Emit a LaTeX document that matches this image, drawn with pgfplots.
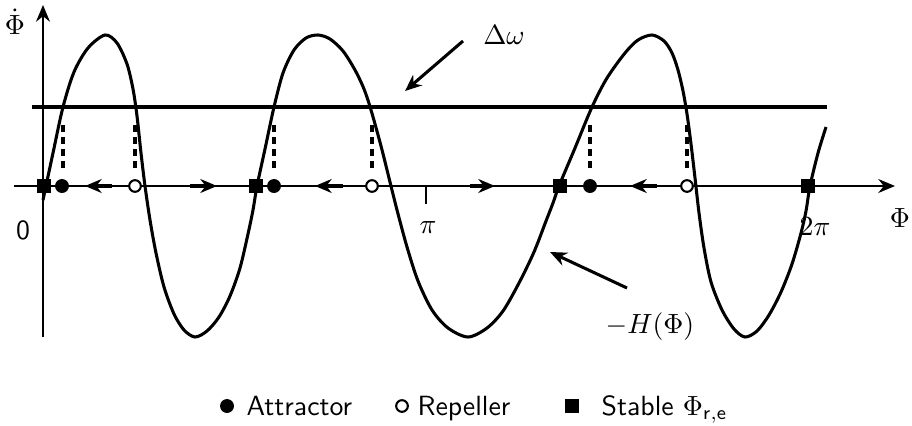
\documentclass[border=0pt]{standalone}
\usepackage{pgfplots}
\pgfplotsset{compat=1.18}
\usetikzlibrary{arrows.meta}

% coupling function -H(Phi), sampled by hand
\pgfplotstableread{
x y
43 -14
53 33
63 79
74 114
88 138
105 151
117 143
127 122
133 97
137 70
141 33
145 0
150 -34
156 -67
164 -101
174 -128
184 -144
195 -151
207 -145
219 -131
230 -110
240 -82
248 -48
253 -24
257 0
265 37
274 79
283 113
294 136
306 148
318 151
330 147
343 135
355 116
364 97
371 76
381 40
389 8
397 -24
407 -61
418 -95
432 -124
448 -142
468 -151
487 -142
503 -125
519 -97
534 -66
546 -35
553 -17
559 0
575 38
592 79
607 108
625 133
638 146
652 151
664 145
672 133
678 116
683 95
687 72
691 42
695 8
699 -27
704 -62
711 -96
722 -124
734 -143
745 -151
757 -145
769 -129
781 -106
792 -78
801 -47
806 -25
810 0
818 33
826 59
}\curve

\begin{document}
\begin{tikzpicture}
\begin{axis}[
  name=ax,
  width=328.32pt, height=153pt, scale only axis,
  xmin=0, xmax=912, ymin=-239, ymax=186,
  hide axis, clip=false,
]
% axes
\addplot[black, line width=0.75pt, -{Stealth[length=6pt,width=5pt]}] coordinates {(43,-151) (43,181)};
\addplot[black, line width=0.75pt, -{Stealth[length=6pt,width=5pt]}] coordinates {(14,0) (895,0)};
\addplot[black, line width=0.75pt] coordinates {(426,0) (426,-18)};

% detuning level
\addplot[black, line width=1.1pt] coordinates {(32,79) (827,79)};

% curve
\addplot[black, line width=1.1pt, smooth, tension=0.5] table[x=x,y=y] {\curve};

% projections of the intersections
\foreach \xx in {63,135,274,372,590,687}{
  \edef\tmp{\noexpand\addplot[black, line width=1.1pt, dash pattern=on 2.5pt off 1.8pt] coordinates {(\xx,61) (\xx,14)};}
  \tmp
}

% flow direction on the phase axis
\addplot[black, line width=1.1pt, -{Stealth[length=6pt,width=5pt]}] coordinates {(112,0) (85,0)};
\addplot[black, line width=1.1pt, -{Stealth[length=6pt,width=5pt]}] coordinates {(190,0) (217,0)};
\addplot[black, line width=1.1pt, -{Stealth[length=6pt,width=5pt]}] coordinates {(343,0) (315,0)};
\addplot[black, line width=1.1pt, -{Stealth[length=6pt,width=5pt]}] coordinates {(470,0) (495,0)};
\addplot[black, line width=1.1pt, -{Stealth[length=6pt,width=5pt]}] coordinates {(657,0) (630,0)};

% fixed points
\addplot[only marks, mark=square*, mark size=2.2pt, black] coordinates {(44,0) (256,0) (560,0) (808,0)};
\addplot[only marks, mark=*, mark size=2.3pt, black] coordinates {(62,0) (274,0) (590,0)};
\addplot[only marks, mark=*, mark size=2.1pt, black, fill=white, line width=0.75pt] coordinates {(135,0) (372,0) (687,0)};

% annotation arrows
\addplot[black, line width=1.1pt, -{Stealth[length=6pt,width=5pt]}] coordinates {(463,145) (405,95)};
\addplot[black, line width=1.1pt, -{Stealth[length=6pt,width=5pt]}] coordinates {(627,-102) (550,-66)};

% labels
\node at (axis cs:15,164) {$\dot{\Phi}$};
\node at (axis cs:504,151) {$\Delta\omega$};
\node at (axis cs:650,-141) {$-H(\Phi)$};
\node at (axis cs:23,-44) {\sffamily 0};
\node at (axis cs:428,-42) {$\pi$};
\node at (axis cs:815,-41) {$2\pi$};
\node at (axis cs:900,-32) {$\Phi$};

% key
\addplot[only marks, mark=*, mark size=2.3pt, black] coordinates {(227,-220)};
\node[anchor=base west, inner sep=0pt] at (axis cs:246,-229) {\sffamily Attractor};
\addplot[only marks, mark=*, mark size=2.1pt, black, fill=white, line width=0.75pt] coordinates {(402,-220)};
\node[anchor=base west, inner sep=0pt] at (axis cs:417,-229) {\sffamily Repeller};
\addplot[only marks, mark=square*, mark size=2.2pt, black] coordinates {(572,-220)};
\node[anchor=base west, inner sep=0pt] at (axis cs:601,-229) {\sffamily Stable $\Phi_{\mathsf{r,e}}$};
\end{axis}
\pgfresetboundingbox
\path[use as bounding box] (ax.south west) rectangle (ax.north east);
\end{tikzpicture}
\end{document}
